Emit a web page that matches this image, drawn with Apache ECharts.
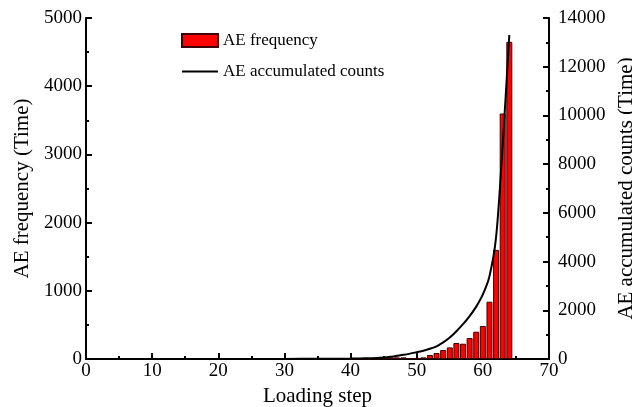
<!DOCTYPE html>
<html><head><meta charset="utf-8">
<script src="https://cdn.jsdelivr.net/npm/echarts@6/dist/echarts.min.js"></script>
<style>html,body{margin:0;padding:0;background:#fff}#c{width:632px;height:407px}</style>
</head><body><div id="c"></div>
<script>
// Loading steps with AE frequency bars
var barSteps = [40, 41, 42, 43, 44, 45, 46, 47, 48, 49, 50, 51, 52, 53, 54, 55, 56, 57, 58, 59, 60, 61, 62, 63, 64];
var aeFrequency = [2, 3, 4, 5, 6, 10, 24, 24, 24, 15, 15, 24, 59, 88, 132, 170, 234, 224, 308, 400, 484, 840, 1600, 3600, 4650];
// Accumulated counts curve
var lineSteps = [0, 10, 20, 30, 35, 38, 40, 41, 42, 43, 44, 45, 46, 47, 48, 49, 50, 51, 52, 53, 54, 55, 56, 57, 58, 59, 60, 61, 62, 63, 64];
var aeAccumulated = [0, 0, 2, 5, 8, 12, 18, 22, 27, 33, 40, 60, 90, 130, 170, 220, 280, 340, 420, 520, 680, 880, 1140, 1430, 1760, 2150, 2650, 3400, 5000, 8800, 13300];
var xTicks = {min: 0, max: 70, interval: 10};
var leftTicks = {min: 0, max: 5000, interval: 1000};
var rightTicks = {min: 0, max: 14000, interval: 2000};

var FONT = 'Liberation Serif';
var chart = echarts.init(document.getElementById('c'));
function axisCommon() {
  return {
    axisLine: {show: true, lineStyle: {color: '#000', width: 2}},
    axisTick: {show: true, inside: true, length: 6, lineStyle: {color: '#000', width: 2}},
    minorTick: {show: true, splitNumber: 2, length: 3, lineStyle: {color: '#000', width: 2}},
    splitLine: {show: false},
    axisLabel: {color: '#000', fontFamily: FONT, fontSize: 19, formatter: function (v) { return String(v); }},
    nameTextStyle: {color: '#000', fontFamily: FONT, fontSize: 21}
  };
}
var xa = Object.assign(axisCommon(), {
  type: 'value', min: xTicks.min, max: xTicks.max, interval: xTicks.interval,
  name: 'Loading step', nameLocation: 'middle', nameGap: 24
});
xa.axisLabel.margin = 3;
var yl = Object.assign(axisCommon(), {
  type: 'value', position: 'left', min: leftTicks.min, max: leftTicks.max, interval: leftTicks.interval,
  name: 'AE frequency (Time)', nameLocation: 'middle', nameGap: 53
});
yl.axisLabel.margin = 4;
var yr = Object.assign(axisCommon(), {
  type: 'value', position: 'right', min: rightTicks.min, max: rightTicks.max, interval: rightTicks.interval,
  name: 'AE accumulated counts (Time)', nameLocation: 'middle', nameGap: 59, nameRotate: 90
});
yr.axisLabel.margin = 9;

chart.setOption({
  animation: false,
  textStyle: {fontFamily: FONT},
  grid: {left: 86, right: 83, top: 18, bottom: 48, containLabel: false, outerBoundsMode: 'none'},
  legend: {
    orient: 'vertical', left: 176, top: 27, itemWidth: 36, itemHeight: 13, itemGap: 14,
    textStyle: {fontFamily: FONT, fontSize: 17, color: '#000'},
    data: [
      {name: 'AE frequency', icon: 'rect'},
      {name: 'AE accumulated counts', itemStyle: {opacity: 0}}
    ]
  },
  xAxis: xa,
  yAxis: [yl, yr],
  series: [
    {
      name: 'AE frequency', type: 'bar', yAxisIndex: 0, barWidth: 6,
      itemStyle: {color: '#ff0000', borderColor: '#400000', borderWidth: 1},
      data: barSteps.map(function (s, i) { return [s, aeFrequency[i]]; })
    },
    {
      name: 'AE accumulated counts', type: 'line', yAxisIndex: 1, symbol: 'none', showSymbol: false,
      smooth: 0.3, lineStyle: {color: '#000', width: 2}, itemStyle: {color: '#000'},
      data: lineSteps.map(function (s, i) { return [s, aeAccumulated[i]]; })
    }
  ]
});
</script></body></html>
